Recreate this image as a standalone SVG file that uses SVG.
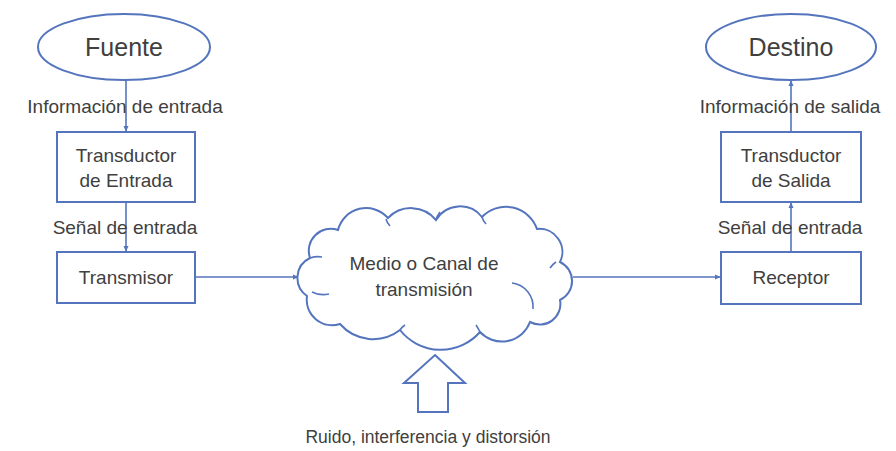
<svg xmlns="http://www.w3.org/2000/svg" width="896" height="451" viewBox="0 0 896 451">
<style>
.shape{fill:#ffffff;stroke:#5475bd;stroke-width:2}
.ln{fill:none;stroke:#5475bd;stroke-width:1.6}
.t{font-family:"Liberation Sans",Arial,sans-serif;fill:#404040;text-anchor:middle}
.s19{font-size:19px}
.s25{font-size:25px}
.s17{font-size:17.5px}
</style>
<defs>
<marker id="ah" viewBox="0 0 8 8" refX="7" refY="4" markerWidth="6" markerHeight="6" markerUnits="userSpaceOnUse" orient="auto">
<path d="M0,0.5 L8,4 L0,7.5 Z" fill="#5475bd"/>
</marker>
</defs>
<rect width="896" height="451" fill="#ffffff"/>

<g id="connectors">
<line class="ln" x1="126" y1="80" x2="126" y2="131" marker-end="url(#ah)"/>
<line class="ln" x1="126" y1="202" x2="126" y2="251" marker-end="url(#ah)"/>
<line class="ln" x1="195" y1="277" x2="298" y2="277" marker-end="url(#ah)"/>
<line class="ln" x1="573" y1="277" x2="720" y2="277" marker-end="url(#ah)"/>
<line class="ln" x1="791" y1="252" x2="791" y2="203" marker-end="url(#ah)"/>
<line class="ln" x1="791" y1="132" x2="791" y2="81" marker-end="url(#ah)"/>
</g>

<g id="label-info-entrada"><text class="t s19" x="125" y="113">Información de entrada</text></g>
<g id="label-senal-entrada-1"><text class="t s19" x="125" y="234">Señal de entrada</text></g>
<g id="label-info-salida"><text class="t s19" x="790" y="113">Información de salida</text></g>
<g id="label-senal-entrada-2"><text class="t s19" x="790" y="234">Señal de entrada</text></g>

<g id="fuente">
<ellipse class="shape" cx="124" cy="47" rx="86" ry="33"/>
<text class="t s25" x="124" y="56">Fuente</text>
</g>
<g id="transductor-entrada">
<rect class="shape" x="57" y="132" width="138" height="70"/>
<text class="t s19" x="126" y="162">Transductor</text>
<text class="t s19" x="126" y="187">de Entrada</text>
</g>
<g id="transmisor">
<rect class="shape" x="57" y="252" width="138" height="51"/>
<text class="t s19" x="126" y="284">Transmisor</text>
</g>

<g id="canal">
<path class="shape" d="M307,296 A22,22 0 0 1 310,258 A22,22 0 0 1 338,230 A29,29 0 0 1 388,218 A32,32 0 0 1 436,220 A28,28 0 0 1 482,217 A33,33 0 0 1 537,229 A23,23 0 0 1 560,262 A21,21 0 0 1 560,300 A20.5,20.5 0 0 1 530,322 A30,30 0 0 1 480,332 A52,52 0 0 1 400,330 A44,44 0 0 1 340,324 A25.5,25.5 0 0 1 307,296 Z"/>
<path class="ln" d="M312,292 Q320,296 329,294"/>
<path class="ln" d="M310,258 Q316,256 322,257"/>
<path class="ln" d="M386,219 Q387,223 390,226"/>
<path class="ln" d="M436,220 Q437,216 440,212"/>
<path class="ln" d="M482,217 Q483,221 486,224"/>
<path class="ln" d="M556,262 Q553,264 550,268"/>
<path class="ln" d="M512,283 A24,24 0 0 1 533,309"/>
<path class="ln" d="M480,332 Q478,328 476,325"/>
<path class="ln" d="M400,330 Q402,327 405,325"/>
<text class="t s19" x="424" y="270">Medio o Canal de</text>
<text class="t s19" x="424" y="296">transmisión</text>
</g>

<g id="ruido">
<path class="shape" d="M435,355 L465,383 L448,383 L448,412 L418,412 L418,383 L404,383 Z"/>
<text class="t s17" x="428" y="443">Ruido, interferencia y distorsión</text>
</g>

<g id="destino">
<ellipse class="shape" cx="791" cy="47" rx="85" ry="33"/>
<text class="t s25" x="791" y="56">Destino</text>
</g>
<g id="transductor-salida">
<rect class="shape" x="721" y="132" width="140" height="70"/>
<text class="t s19" x="791" y="162">Transductor</text>
<text class="t s19" x="791" y="187">de Salida</text>
</g>
<g id="receptor">
<rect class="shape" x="721" y="252" width="140" height="52"/>
<text class="t s19" x="791" y="284">Receptor</text>
</g>
</svg>
